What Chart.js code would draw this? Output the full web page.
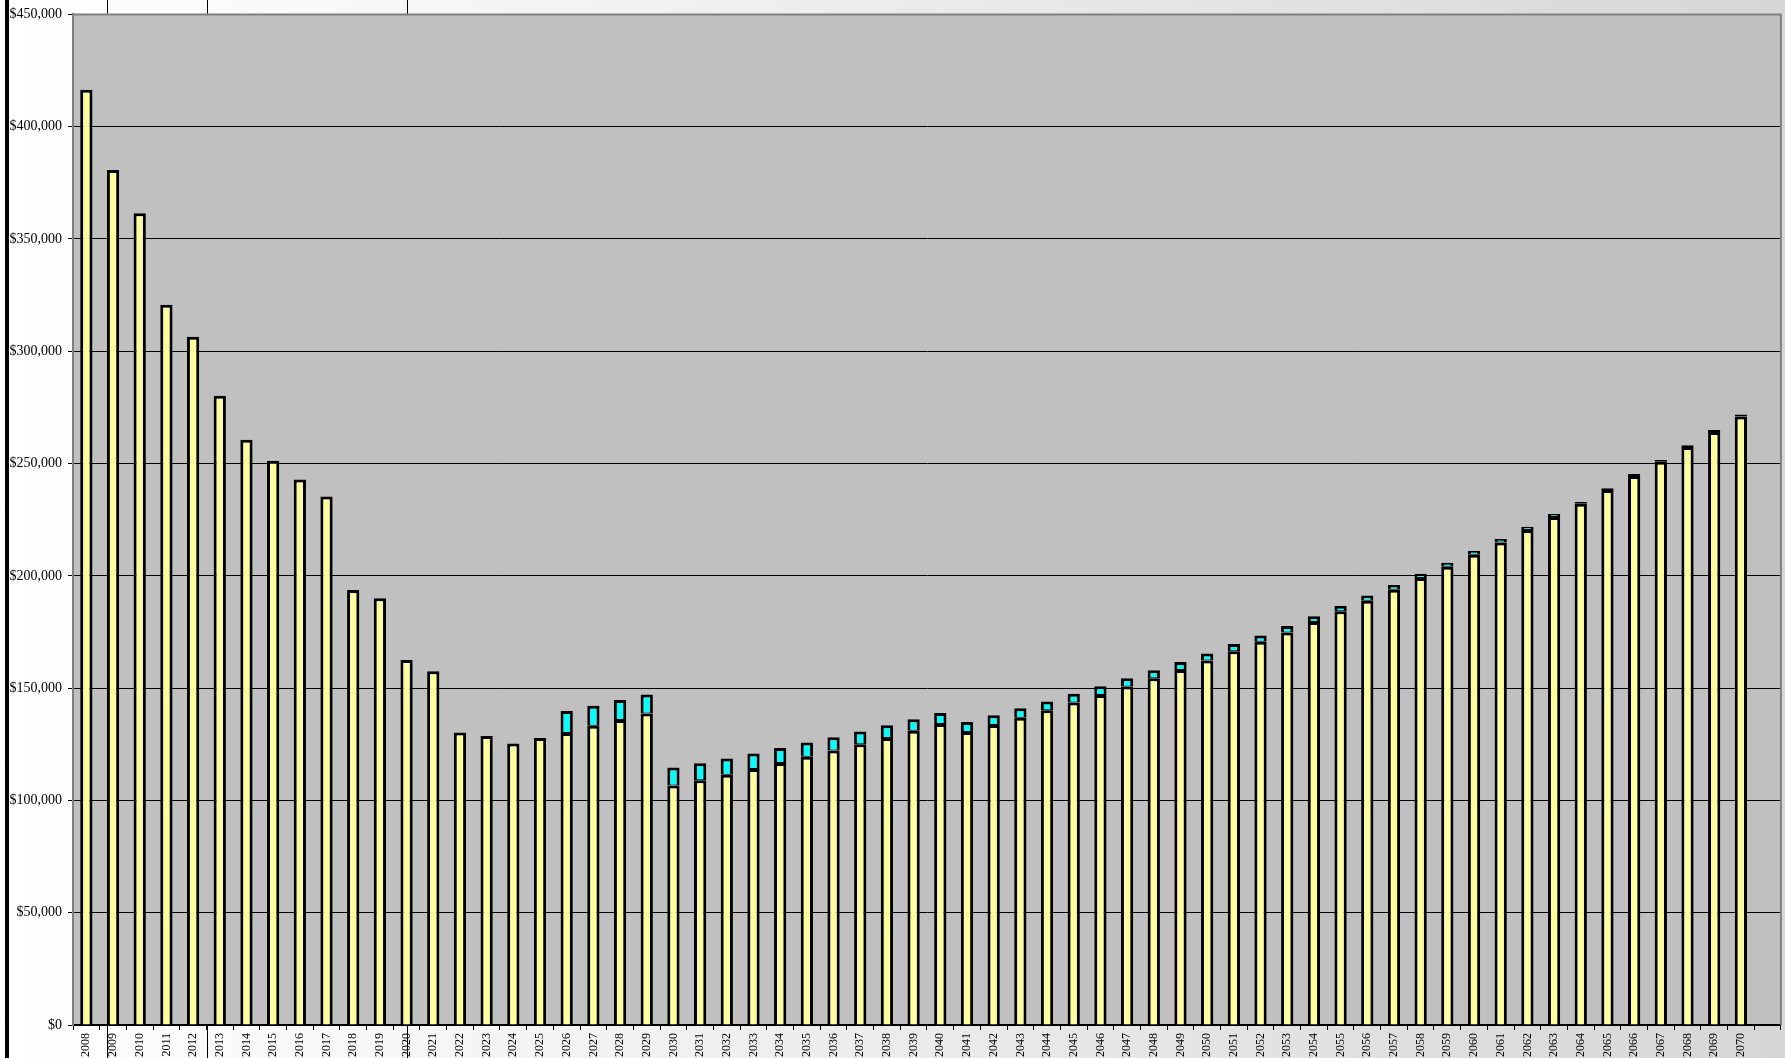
<!DOCTYPE html>
<html>
<head>
<meta charset="utf-8">
<script src="https://cdn.jsdelivr.net/npm/chart.js@4.4.1/dist/chart.umd.min.js"></script>
<style>
  html, body { margin: 0; padding: 0; overflow: hidden; }
  body {
    width: 1785px; height: 1058px; position: relative;
    background: linear-gradient(to right, #ffffff 0%, #f2f2f2 35%, #d6d6d6 100%);
  }
  .cell { position: absolute; top: 0; width: 1px; height: 1058px; background: #000; }
  #edge { position: absolute; left: 5px; top: 0; width: 4px; height: 1058px; background: #000; z-index: 2; }
  #costChart { position: absolute; left: 0; top: 0; z-index: 1; }
</style>
</head>
<body>
<div class="cell" style="left:107px"></div>
<div class="cell" style="left:207px"></div>
<div class="cell" style="left:407px"></div>
<canvas id="costChart" width="1785" height="1058"></canvas>
<div id="edge"></div>
<script>
// one slot per year, plus an empty slot at the end as in the original
const years = [
  '2008','2009','2010','2011','2012','2013','2014','2015','2016','2017',
  '2018','2019','2020','2021','2022','2023','2024','2025','2026','2027',
  '2028','2029','2030','2031','2032','2033','2034','2035','2036','2037',
  '2038','2039','2040','2041','2042','2043','2044','2045','2046','2047',
  '2048','2049','2050','2051','2052','2053','2054','2055','2056','2057',
  '2058','2059','2060','2061','2062','2063','2064','2065','2066','2067',
  '2068','2069','2070',''
];

// yellow part of each bar
const baseCost = [
  416500, 380700, 361500, 320700, 306500, 280200, 260600, 251300, 242900, 235300,
  193700, 190000, 162500, 157500, 130300, 128700, 125300, 127800, 130000, 133300,
  135800, 138700, 106700, 109000, 111400, 114000, 116700, 119400, 122200, 125000,
  127800, 131000, 134000, 130500, 133600, 136800, 140200, 143600, 146900, 150700,
  154400, 158100, 162300, 166400, 170600, 174800, 179400, 184200, 188900, 193800,
  199000, 204000, 209400, 214800, 220400, 226200, 232100, 238200, 244500, 250800,
  257400, 264100, 271000, null
];

// cyan part stacked on top
const addedCost = [
  0, 0, 0, 0, 0, 0, 0, 0, 0, 0,
  0, 0, 0, 0, 0, 0, 0, 0, 9800, 8900,
  8900, 8500, 8000, 7600, 7300, 6900, 6600, 6400, 5900, 5700,
  5700, 5100, 4900, 4400, 4300, 4200, 3900, 3900, 3900, 3700,
  3600, 3500, 3100, 3200, 2800, 2900, 2600, 2400, 2300, 2100,
  1900, 1800, 1700, 1600, 1500, 1300, 800, 800, 800, 800,
  800, 800, 800, null
];

const yTicks = [0, 50000, 100000, 150000, 200000, 250000, 300000, 350000, 400000, 450000];

const serif = "'Liberation Serif', 'Times New Roman', serif";

const plotArea = {
  id: 'plotArea',
  beforeDraw(chart) {
    const { ctx, chartArea: a } = chart;
    ctx.save();
    ctx.fillStyle = '#c0c0c0';
    ctx.fillRect(a.left, a.top, a.right - a.left, a.bottom - a.top);
    ctx.restore();
  },
  afterDraw(chart) {
    const { ctx, chartArea: a } = chart;
    ctx.save();
    ctx.strokeStyle = '#808080';
    ctx.lineWidth = 2;
    ctx.beginPath();
    ctx.moveTo(a.left, a.top);
    ctx.lineTo(a.right, a.top);
    ctx.lineTo(a.right, a.bottom);
    ctx.stroke();
    ctx.restore();
  }
};

new Chart(document.getElementById('costChart'), {
  type: 'bar',
  data: {
    labels: years,
    datasets: [
      {
        data: baseCost,
        backgroundColor: '#ffff99',
        borderColor: '#000',
        borderWidth: 3
      },
      {
        data: addedCost,
        backgroundColor: '#00ffff',
        borderColor: '#000',
        borderWidth: { top: 3, left: 3, right: 3, bottom: 1 },
        borderSkipped: false
      }
    ]
  },
  options: {
    responsive: false,
    animation: false,
    events: [],
    layout: { padding: { left: 0, top: 12, right: 4, bottom: 0 } },
    datasets: { bar: { categoryPercentage: 1, barPercentage: 0.46 } },
    plugins: { legend: { display: false }, tooltip: { enabled: false }, title: { display: false } },
    scales: {
      x: {
        stacked: true,
        afterFit: s => { s.height = 33; },
        grid: { offset: true, drawOnChartArea: false, color: '#000', tickLength: 5 },
        border: { color: '#000', width: 1.5 },
        ticks: {
          autoSkip: false, minRotation: 90, maxRotation: 90, padding: 3,
          color: '#000', font: { family: serif, size: 12 }
        }
      },
      y: {
        stacked: true,
        min: 0,
        max: 450000,
        afterFit: s => { s.width = 73; },
        afterBuildTicks: s => { s.ticks = yTicks.map(v => ({ value: v })); },
        grid: { color: '#000', lineWidth: 1, tickLength: 5 },
        border: { color: '#808080', width: 2 },
        ticks: {
          padding: 6, color: '#000', font: { family: serif, size: 14 },
          callback: v => '$' + v.toLocaleString('en-US')
        }
      }
    }
  },
  plugins: [plotArea]
});
</script>
</body>
</html>
